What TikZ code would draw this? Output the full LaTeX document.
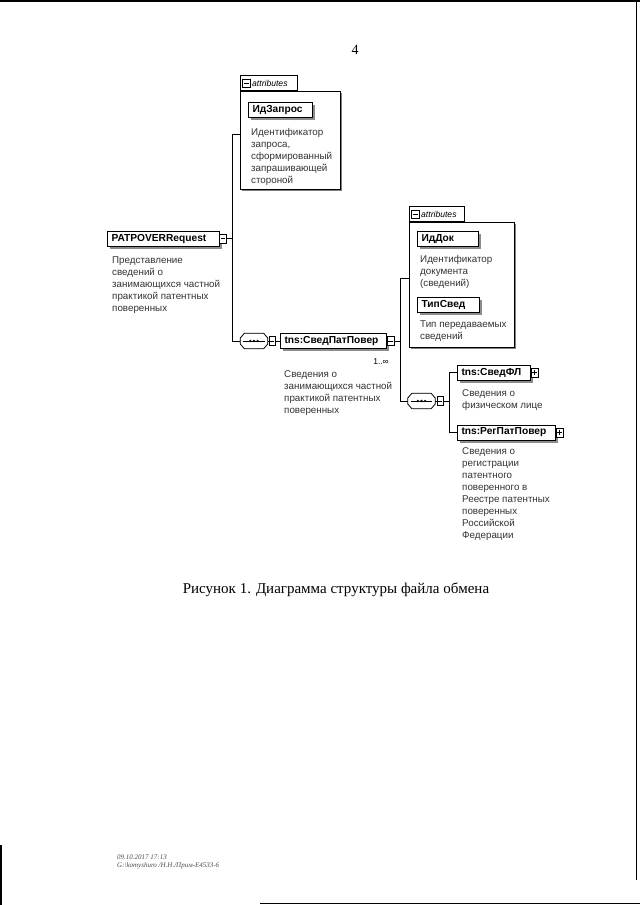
\documentclass[tikz,border=0pt]{standalone}
\usepackage{fontspec}
\setmainfont{Liberation Serif}
\setsansfont{Liberation Sans}
\usetikzlibrary{shadows}
\begin{document}
\begin{tikzpicture}[x=1pt,y=-1pt,
  elem/.style={draw, line width=1pt, fill=white, inner xsep=4pt, inner ysep=0pt,
    minimum height=15pt, align=left,
    font=\sffamily\bfseries\fontsize{10.2}{12}\selectfont,
    drop shadow={shadow xshift=2.5pt, shadow yshift=-2.5pt, fill=black!45, opacity=1}},
  desc/.style={inner sep=0pt, align=left, text=black!80,
    font=\sffamily\fontsize{9.8}{12}\selectfont},
  attrbox/.style={draw, line width=0.7pt, fill=white, inner sep=0pt,
    drop shadow={shadow xshift=1.2pt, shadow yshift=-1.2pt, fill=black!50, opacity=1}},
  attrtab/.style={draw, line width=0.7pt, fill=white, inner sep=0pt},
  tabtext/.style={inner sep=0pt, font=\sffamily\itshape\fontsize{8.6}{10}\selectfont},
  iconbase/.style={draw, fill=white, line width=0.6pt, inner sep=0pt,
    minimum width=7pt, minimum height=9pt},
  minusicon/.style={iconbase,
    path picture={\draw[line width=0.6pt] ([xshift=1.4pt]path picture bounding box.west)
      -- ([xshift=-1.4pt]path picture bounding box.east);}},
  plusicon/.style={iconbase,
    path picture={\draw[line width=0.6pt] ([xshift=1.4pt]path picture bounding box.west)
      -- ([xshift=-1.4pt]path picture bounding box.east);
      \draw[line width=0.6pt] ([yshift=-1.6pt]path picture bounding box.north)
      -- ([yshift=1.6pt]path picture bounding box.south);}},
  seqc/.style={inner sep=0pt, minimum width=27pt, minimum height=15pt},
  conn/.style={line width=0.8pt},
  mult/.style={inner sep=0pt, font=\sffamily\fontsize{8.5}{10}\selectfont},
  foot/.style={inner sep=0pt, text=black!70, font=\itshape\fontsize{7}{8}\selectfont}
]
\useasboundingbox (0,0) rectangle (640,905);
\fill[white] (0,0) rectangle (640,905);
% scan edges
\fill[black] (0,0) rectangle (640,1.8);
\draw[line width=1.2pt] (636.5,0) -- (636.5,880);
\draw[line width=1.2pt] (260,903.5) -- (640,903.5);
\draw[line width=1.5pt] (0.8,845) -- (0.8,905);

% page number
\node[font=\fontsize{14}{14}\selectfont, inner sep=0pt] (pnum) at (355,50) {4};

% ---- attributes of root
\node[attrbox, minimum width=100pt, minimum height=98pt, anchor=north west] (ab1) at (240,91) {};
\node[attrtab, minimum width=57pt, minimum height=15pt, anchor=south west] (tab1) at (ab1.north west) {};
\node[minusicon, minimum width=7.5pt, minimum height=7.5pt] (ti1) at (246.5,83.5) {};
\node[tabtext, anchor=west] (tt1) at (252,83.5) {attributes};
\node[elem, text width=56pt, anchor=north west] (a1) at (248,102) {ИдЗапрос};
\node[desc, anchor=north west] (a1d) at (251,128) {Идентификатор\\запроса,\\сформированный\\запрашивающей\\стороной};

% ---- root
\node[elem, text width=104pt, anchor=north west] (root) at (107,231) {PATPOVERRequest};
\node[minusicon] (rooti) at (223,238.5) {};
\node[desc, anchor=north west] (rootd) at (112,257) {Представление\\сведений о\\занимающихся частной\\практикой патентных\\поверенных};

\coordinate (tr1) at ([xshift=-8pt,yshift=6pt]ab1.west);

% ---- sequence 1 and element 2
\node[seqc] (seq1) at (254,341) {};
\node[minusicon, minimum width=6pt] (sq1) at (272,341) {};
\node[elem, text width=98pt, anchor=west] (el2) at (280,341) {tns:СведПатПовер};
\node[minusicon] (el2i) at (390.5,341) {};
\node[mult, anchor=base east] (m2) at (389,364) {1..∞};
\node[desc, anchor=north west] (el2d) at (284,370) {Сведения о\\занимающихся частной\\практикой патентных\\поверенных};

% ---- attributes of element 2
\node[attrbox, minimum width=105pt, minimum height=125pt, anchor=north west] (ab2) at (409,222) {};
\node[attrtab, minimum width=55pt, minimum height=15pt, anchor=south west] (tab2) at (ab2.north west) {};
\node[minusicon, minimum width=7.5pt, minimum height=7.5pt] (ti2) at (415.5,214.5) {};
\node[tabtext, anchor=west] (tt2) at (421,214.5) {attributes};
\node[elem, text width=53pt, anchor=north west] (a2) at (417,231) {ИдДок};
\node[desc, anchor=north west] (a2d) at (420,255) {Идентификатор\\документа\\(сведений)};
\node[elem, text width=54pt, anchor=north west] (a3) at (417,297) {ТипСвед};
\node[desc, anchor=north west] (a3d) at (420,321) {Тип передаваемых\\сведений};

\coordinate (tr2) at ([xshift=-9pt,yshift=6.5pt]ab2.west);

% ---- sequence 2 and children
\node[seqc] (seq2) at (421.5,401) {};
\node[minusicon, minimum width=6pt] (sq2) at (440,401) {};
\node[elem, text width=65pt, anchor=west] (el3) at (457,372.5) {tns:СведФЛ};
\node[plusicon] (el3i) at (534.5,372.5) {};
\node[desc, anchor=north west] (el3d) at (462,389) {Сведения о\\физическом лице};
\node[elem, text width=90pt, anchor=west] (el4) at (457,432.5) {tns:РегПатПовер};
\node[plusicon] (el4i) at (559.5,432.5) {};
\node[desc, anchor=north west] (el4d) at (462,447) {Сведения о\\регистрации\\патентного\\поверенного в\\Реестре патентных\\поверенных\\Российской\\Федерации};

\coordinate (tr3) at ([xshift=-8pt]el3.west);

% ---- sequence compositor glyphs
\foreach \s in {seq1,seq2}{
  \begin{scope}[shift={(1.6pt,-1.6pt)}]
  \fill[black!45] ([yshift=3pt]\s.west) -- ([xshift=4pt]\s.north west) -- ([xshift=-4pt]\s.north east)
     -- ([yshift=3pt]\s.east) -- ([yshift=-3pt]\s.east) -- ([xshift=-4pt]\s.south east)
     -- ([xshift=4pt]\s.south west) -- ([yshift=-3pt]\s.west) -- cycle;
  \end{scope}
  \filldraw[fill=white, line width=0.8pt] ([yshift=3pt]\s.west) -- ([xshift=4pt]\s.north west) -- ([xshift=-4pt]\s.north east)
     -- ([yshift=3pt]\s.east) -- ([yshift=-3pt]\s.east) -- ([xshift=-4pt]\s.south east)
     -- ([xshift=4pt]\s.south west) -- ([yshift=-3pt]\s.west) -- cycle;
  \draw[line width=0.7pt] ([xshift=3pt]\s.west) -- ([xshift=-3pt]\s.east);
  \foreach \d in {-3.6,0,3.6}
    \fill ([xshift=\d pt]\s.center) circle (1.3pt);
}

% ---- connectors
\draw[conn] (rooti.east) -- (rooti.east -| tr1);
\draw[conn] ([yshift=6pt]ab1.west) -- (tr1) |- (seq1.west);
\draw[conn] (seq1.east) -- (sq1.west);
\draw[conn] (sq1.east) -- (el2.west);
\draw[conn] (el2i.east) -- (el2i.east -| tr2);
\draw[conn] ([yshift=6.5pt]ab2.west) -- (tr2) |- (seq2.west);
\draw[conn] (seq2.east) -- (sq2.west);
\draw[conn] (sq2.east) -- (sq2.east -| tr3);
\draw[conn] (el3.west) -- (tr3) |- (el4.west);

% ---- caption and footer
\node[font=\fontsize{15}{18}\selectfont, inner sep=0pt] (cap) at (336,590) {Рисунок 1. Диаграмма структуры файла обмена};
\node[foot, anchor=west] (f1) at (117,857) {09.10.2017 17:13};
\node[foot, anchor=west] (f2) at (117,866) {G:\textbackslash komyshuro /Н.Н./Прим-E4533-6};
\end{tikzpicture}
\end{document}
